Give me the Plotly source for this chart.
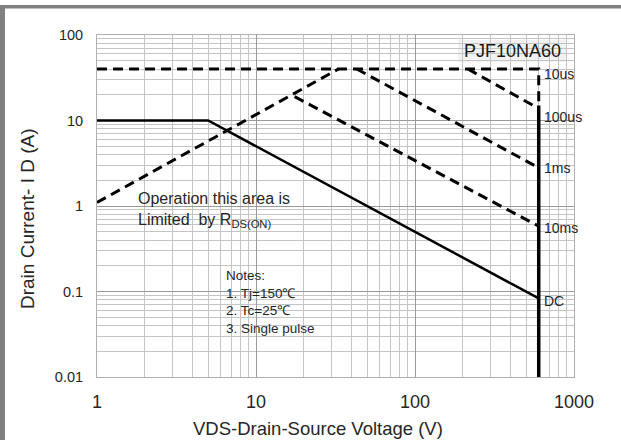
import math
import plotly.graph_objects as go

# ---- data ----
v_10us = [1, 600, 600]
i_10us = [40, 40, 15]
v_rds = [1, 33]
i_rds = [1.1, 40]
v_100us = [215, 600]
i_100us = [40, 13.8]
v_1ms = [43, 600]
i_1ms = [40, 2.8]
v_10ms = [17.5, 600]
i_10ms = [19, 0.58]
v_dc = [1, 5, 600]
i_dc = [10, 10, 0.083]
v_bv = [600, 600]
i_bv = [15, 0.01]

curve_labels = ["10us", "100us", "1ms", "10ms", "DC"]
curve_label_i = [35, 11, 2.78, 0.553, 0.0775]
curve_label_v = 600

x_tickvals = [1, 10, 100, 1000]
x_ticktext = ["1", "10", "100", "1000"]
y_tickvals = [0.01, 0.1, 1, 10, 100]
y_ticktext = ["0.01", "0.1", "1", "10", "100"]

part_name = "PJF10NA60"
rds_text = "Operation this area is<br>Limited\u00a0 by R<sub>DS(ON)</sub>"
notes_text = "Notes:<br>1. Tj=150\u2103<br>2. Tc=25\u2103<br>3. Single pulse"
x_title = "VDS-Drain-Source Voltage (V)"
y_title = "Drain Current- I D (A)"

W, H = 621, 440
L, R, T, B = 97, 47, 35, 63
PW, PH = W - L - R, H - T - B


def px(xp):
    return (xp - L) / PW


def py(yp):
    return (H - B - yp) / PH


FONT = "Liberation Sans, Arial, sans-serif"
TXT = "#262626"
DASH = "10px,6px"

fig = go.Figure()
dash_line = dict(color="black", width=3, dash=DASH)
for xs, ys in [(v_10us, i_10us), (v_rds, i_rds), (v_100us, i_100us),
               (v_1ms, i_1ms), (v_10ms, i_10ms)]:
    fig.add_trace(go.Scatter(x=xs, y=ys, mode="lines", line=dash_line,
                             hoverinfo="skip", showlegend=False))
fig.add_trace(go.Scatter(x=v_dc, y=i_dc, mode="lines",
                         line=dict(color="black", width=2.5),
                         showlegend=False))
fig.add_trace(go.Scatter(x=v_bv, y=i_bv, mode="lines",
                         line=dict(color="black", width=3.5),
                         showlegend=False))

annotations = []
for lab, iv in zip(curve_labels, curve_label_i):
    annotations.append(dict(x=math.log10(curve_label_v), y=math.log10(iv),
                            xref="x", yref="y", text=lab, showarrow=False,
                            xanchor="left", yanchor="middle", xshift=3,
                            font=dict(size=14, color=TXT, family=FONT)))

annotations += [
    dict(x=px(512), y=py(51), xref="paper", yref="paper", text=part_name,
         showarrow=False, xanchor="center", yanchor="middle",
         font=dict(size=18, color="#1a1a1a", family=FONT)),
    dict(x=px(136), y=py(210), xref="paper", yref="paper", text=rds_text,
         showarrow=False, xanchor="left", yanchor="middle", align="left",
         font=dict(size=16, color=TXT, family=FONT)),
    dict(x=px(224), y=py(302), xref="paper", yref="paper", text=notes_text,
         showarrow=False, xanchor="left", yanchor="middle", align="left",
         font=dict(size=13.5, color=TXT, family=FONT)),
    dict(x=px(318), y=py(428), xref="paper", yref="paper", text=x_title,
         showarrow=False, xanchor="center", yanchor="middle",
         font=dict(size=18.5, color=TXT, family=FONT)),
    dict(x=px(27), y=py(219), xref="paper", yref="paper", text=y_title,
         showarrow=False, xanchor="center", yanchor="middle", textangle=-90,
         font=dict(size=19, color=TXT, family=FONT)),
]

shapes = [
    dict(type="rect", xref="paper", yref="paper", x0=px(458), x1=px(566),
         y0=py(62), y1=py(40), fillcolor="#f2f2f2", line=dict(width=0),
         layer="between"),
    dict(type="rect", xref="paper", yref="paper", x0=px(132), x1=px(302),
         y0=py(228), y1=py(190), fillcolor="white", line=dict(width=0),
         layer="between"),
    dict(type="rect", xref="paper", yref="paper", x0=px(208), x1=px(336),
         y0=py(350), y1=py(260), fillcolor="white", line=dict(width=0),
         layer="between"),
    # outer frame (top and left)
    dict(type="rect", xref="paper", yref="paper", x0=px(0), x1=px(W + 5),
         y0=py(8.5), y1=py(5), fillcolor="#808080", line=dict(width=0),
         layer="above"),
    dict(type="rect", xref="paper", yref="paper", x0=px(0), x1=px(5),
         y0=py(H + 5), y1=py(5), fillcolor="#808080", line=dict(width=0),
         layer="above"),
]

axis_common = dict(type="log", showline=True, mirror=True, linecolor="#b0b0b0",
                   linewidth=1, showgrid=True, gridcolor="#9a9a9a", gridwidth=1,
                   zeroline=False, ticks="", tickmode="array",
                   minor=dict(tickmode="linear", dtick="D1", showgrid=True,
                              gridcolor="#c4c4c4", gridwidth=1, ticks=""))

fig.update_layout(
    width=W, height=H,
    margin=dict(l=L, r=R, t=T, b=B, pad=0),
    paper_bgcolor="white", plot_bgcolor="white",
    xaxis=dict(axis_common, range=[0, 3], tickvals=x_tickvals,
               ticktext=x_ticktext, ticklabelstandoff=8,
               tickfont=dict(size=18, color=TXT, family=FONT)),
    yaxis=dict(axis_common, range=[-2, 2], tickvals=y_tickvals,
               ticktext=y_ticktext, ticklabelstandoff=10,
               tickfont=dict(size=14.5, color=TXT, family=FONT)),
    annotations=annotations,
    shapes=shapes,
)

fig.write_html(
    "out.html",
    config={"displayModeBar": False},
    post_script="document.body.style.margin='0';document.body.style.overflow='hidden';",
)
